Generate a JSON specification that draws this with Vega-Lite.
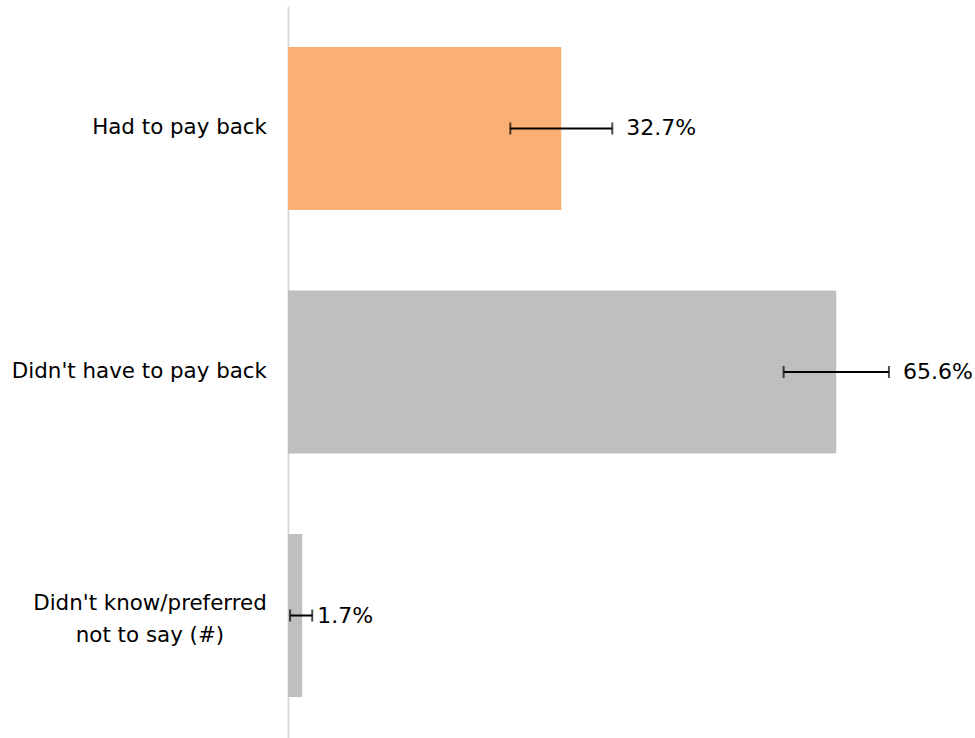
{
  "$schema": "https://vega.github.io/schema/vega-lite/v6.json",
  "width": 687,
  "height": 732,
  "autosize": {"type": "none"},
  "padding": {"left": 288, "top": 6, "right": 0, "bottom": 0},
  "background": "white",
  "config": {
    "view": {"stroke": null},
    "font": "DejaVu Sans"
  },
  "data": {
    "values": [
      {"category": "Had to pay back", "catlabel": "Had to pay back", "multi": "no", "value": 32.7, "lower": 26.6, "upper": 38.8, "label": "32.7%", "highlight": "yes"},
      {"category": "Didn't have to pay back", "catlabel": "Didn't have to pay back", "multi": "no", "value": 65.6, "lower": 59.3, "upper": 71.9, "label": "65.6%", "highlight": "no"},
      {"category": "Didn't know/preferred not to say (#)", "catlabel": "Didn't know/preferred|not to say (#)", "multi": "yes", "value": 1.7, "lower": 0.25, "upper": 2.9, "label": "1.7%", "highlight": "no"}
    ]
  },
  "encoding": {
    "y": {
      "field": "category",
      "type": "nominal",
      "sort": null,
      "scale": {"paddingInner": 0.33, "paddingOuter": 0.168},
      "axis": {
        "title": null,
        "ticks": false,
        "labels": false,
        "domainColor": "#d9d9d9",
        "domainWidth": 2
      }
    }
  },
  "layer": [
    {
      "mark": {"type": "bar"},
      "encoding": {
        "x": {
          "field": "value",
          "type": "quantitative",
          "scale": {"domain": [0, 82.2], "nice": false},
          "axis": null
        },
        "color": {
          "field": "highlight",
          "type": "nominal",
          "scale": {"domain": ["yes", "no"], "range": ["#FAB074", "#BFBFBF"]},
          "legend": null
        }
      }
    },
    {
      "mark": {"type": "rule", "color": "#000000", "strokeWidth": 2},
      "encoding": {
        "x": {"field": "lower", "type": "quantitative"},
        "x2": {"field": "upper"}
      }
    },
    {
      "mark": {"type": "tick", "color": "#000000", "thickness": 2, "size": 12, "orient": "vertical"},
      "encoding": {
        "x": {"field": "lower", "type": "quantitative"}
      }
    },
    {
      "mark": {"type": "tick", "color": "#000000", "thickness": 2, "size": 12, "orient": "vertical"},
      "encoding": {
        "x": {"field": "upper", "type": "quantitative"}
      }
    },
    {
      "transform": [{"filter": "datum.multi == 'no'"}],
      "mark": {"type": "text", "align": "left", "baseline": "middle", "dx": 14, "fontSize": 22, "color": "#000000", "font": "DejaVu Sans"},
      "encoding": {
        "x": {"field": "upper", "type": "quantitative"},
        "text": {"field": "label"}
      }
    },
    {
      "transform": [{"filter": "datum.multi == 'yes'"}],
      "mark": {"type": "text", "align": "left", "baseline": "middle", "dx": 5, "fontSize": 22, "color": "#000000", "font": "DejaVu Sans"},
      "encoding": {
        "x": {"field": "upper", "type": "quantitative"},
        "text": {"field": "label"}
      }
    },
    {
      "transform": [{"filter": "datum.multi == 'no'"}],
      "mark": {"type": "text", "align": "right", "baseline": "middle", "dx": -21, "fontSize": 21.4, "color": "#000000", "font": "DejaVu Sans"},
      "encoding": {
        "x": {"datum": 0, "type": "quantitative"},
        "text": {"field": "catlabel"}
      }
    },
    {
      "transform": [{"filter": "datum.multi == 'yes'"}],
      "mark": {"type": "text", "align": "center", "baseline": "middle", "dx": -138, "dy": -12, "fontSize": 21.4, "lineHeight": 32, "lineBreak": "|", "color": "#000000", "font": "DejaVu Sans"},
      "encoding": {
        "x": {"datum": 0, "type": "quantitative"},
        "text": {"field": "catlabel"}
      }
    }
  ]
}
